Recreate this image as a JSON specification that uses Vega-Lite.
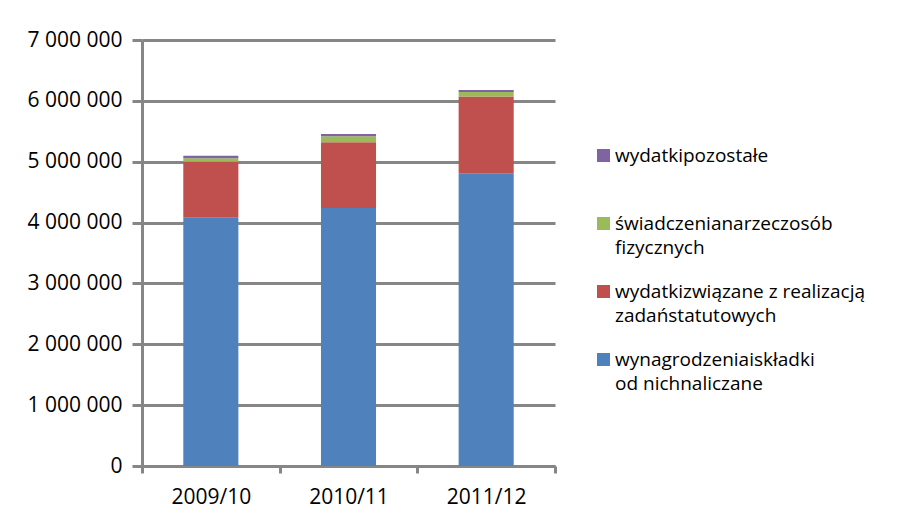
{
  "$schema": "https://vega.github.io/schema/vega-lite/v6.json",
  "width": 413,
  "height": 426,
  "autosize": {"type": "none"},
  "padding": {"left": 142, "top": 40, "right": 344, "bottom": 58},
  "background": "white",
  "config": {
    "font": "Open Sans",
    "view": {"stroke": null},
    "locale": {"number": {"decimal": ",", "thousands": " ", "grouping": [3], "currency": ["", ""]}},
    "style": {"guide-label": {"lineHeight": 24}}
  },
  "data": {
    "values": [
      {"rok": "2009/10", "seria": "wynagrodzeniaiskładki od nichnaliczane", "k": 1, "kwota": 4080000},
      {"rok": "2009/10", "seria": "wydatkizwiązane z realizacją zadaństatutowych", "k": 2, "kwota": 920000},
      {"rok": "2009/10", "seria": "świadczenianarzeczosób fizycznych", "k": 3, "kwota": 55000},
      {"rok": "2009/10", "seria": "wydatkipozostałe", "k": 4, "kwota": 45000},
      {"rok": "2010/11", "seria": "wynagrodzeniaiskładki od nichnaliczane", "k": 1, "kwota": 4240000},
      {"rok": "2010/11", "seria": "wydatkizwiązane z realizacją zadaństatutowych", "k": 2, "kwota": 1080000},
      {"rok": "2010/11", "seria": "świadczenianarzeczosób fizycznych", "k": 3, "kwota": 100000},
      {"rok": "2010/11", "seria": "wydatkipozostałe", "k": 4, "kwota": 35000},
      {"rok": "2011/12", "seria": "wynagrodzeniaiskładki od nichnaliczane", "k": 1, "kwota": 4810000},
      {"rok": "2011/12", "seria": "wydatkizwiązane z realizacją zadaństatutowych", "k": 2, "kwota": 1260000},
      {"rok": "2011/12", "seria": "świadczenianarzeczosób fizycznych", "k": 3, "kwota": 75000},
      {"rok": "2011/12", "seria": "wydatkipozostałe", "k": 4, "kwota": 35000}
    ]
  },
  "mark": {"type": "bar", "width": {"band": 0.4}},
  "encoding": {
    "x": {
      "field": "rok",
      "type": "nominal",
      "title": null,
      "scale": {"paddingInner": 0, "paddingOuter": 0},
      "axis": {
        "labelAngle": 0,
        "labelFontSize": 21,
        "labelColor": "#000000",
        "labelPadding": 13,
        "domainColor": "#868686",
        "domainWidth": 3,
        "tickColor": "#868686",
        "tickWidth": 3,
        "tickSize": 7,
        "tickBand": "extent",
        "grid": false
      }
    },
    "y": {
      "field": "kwota",
      "type": "quantitative",
      "stack": "zero",
      "title": null,
      "scale": {"domain": [0, 7000000], "nice": false},
      "axis": {
        "values": [0, 1000000, 2000000, 3000000, 4000000, 5000000, 6000000, 7000000],
        "format": ",d",
        "labelFontSize": 21,
        "labelColor": "#000000",
        "labelPadding": 10,
        "domainColor": "#868686",
        "domainWidth": 3,
        "tickColor": "#868686",
        "tickWidth": 3,
        "tickSize": 10,
        "grid": true,
        "gridColor": "#868686",
        "gridWidth": 3
      }
    },
    "order": {"field": "k", "type": "quantitative", "sort": "ascending"},
    "color": {
      "field": "seria",
      "type": "nominal",
      "scale": {
        "domain": ["wydatkipozostałe", "świadczenianarzeczosób fizycznych", "wydatkizwiązane z realizacją zadaństatutowych", "wynagrodzeniaiskładki od nichnaliczane"],
        "range": ["#8064A2", "#9BBB59", "#C0504D", "#4F81BD"]
      },
      "legend": {
        "title": null,
        "orient": "none",
        "legendX": 452,
        "legendY": 106,
        "padding": 0,
        "columns": 1,
        "gridAlign": "all",
        "rowPadding": 24,
        "symbolType": "square",
        "symbolSize": 170,
        "symbolStrokeWidth": 0,
        "labelFontSize": 19,
        "labelColor": "#000000",
        "labelOffset": 2,
        "labelLimit": 400,
        "labelBaseline": "middle",
        "labelExpr": "datum.label == 'wydatkipozostałe' ? ['wydatkipozostałe', ''] : datum.label == 'świadczenianarzeczosób fizycznych' ? ['świadczenianarzeczosób', 'fizycznych'] : datum.label == 'wydatkizwiązane z realizacją zadaństatutowych' ? ['wydatkizwiązane z realizacją', 'zadaństatutowych'] : ['wynagrodzeniaiskładki', 'od nichnaliczane']"
      }
    }
  }
}
